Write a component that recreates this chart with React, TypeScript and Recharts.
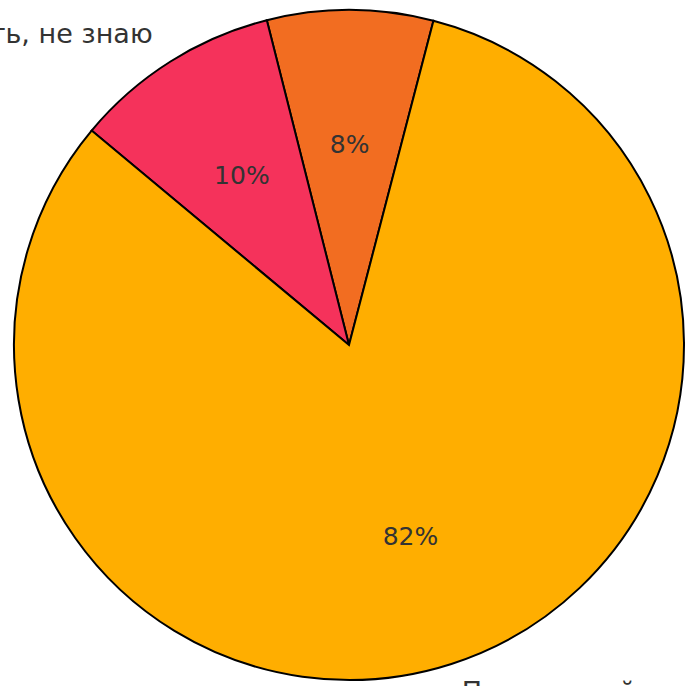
import { PieChart, Pie, Cell } from 'recharts'

const names = ['Да, полностью', 'Затрудняюсь ответить, не знаю', 'Позитивный']
const shares = [8, 10, 82]
const colors = ['#F26D21', '#F5325B', '#FFAE00']

const data = names.map((name, i) => ({ name, value: shares[i] }))

const RAD = Math.PI / 180

function renderLabel(props: any) {
  const { cx, cy, midAngle, outerRadius, percent, name, index } = props
  const cos = Math.cos(-midAngle * RAD)
  const sin = Math.sin(-midAngle * RAD)
  const rIn = outerRadius * 0.6
  const rOut = outerRadius * 1.1
  return (
    <g key={`lbl-${index}`}>
      <text
        x={cx + rIn * cos}
        y={cy + rIn * sin}
        dy={9}
        textAnchor="middle"
        fill="#333333"
        fontSize={25}
        fontFamily="DejaVu Sans"
      >
        {`${Math.round(percent * 100)}%`}
      </text>
      <text
        x={cx + rOut * cos}
        y={cy + rOut * sin}
        dy={sin > 0 ? 5 : 10}
        textAnchor={cos >= 0 ? 'start' : 'end'}
        fill="#333333"
        fontSize={27}
        fontFamily="DejaVu Sans"
      >
        {name}
      </text>
    </g>
  )
}

export default function App() {
  return (
    <div style={{ position: 'fixed', left: 0, top: 0, background: '#fff' }}>
      <PieChart width={688} height={686} margin={{ top: 0, right: 0, bottom: 0, left: 0 }}>
        <Pie
          data={data}
          dataKey="value"
          nameKey="name"
          cx={349}
          cy={345}
          outerRadius={335}
          startAngle={75.4}
          endAngle={435.4}
          stroke="#000000"
          strokeWidth={2}
          label={renderLabel}
          labelLine={false}
          isAnimationActive={false}
        >
          {data.map((d, i) => (
            <Cell key={d.name} fill={colors[i]} />
          ))}
        </Pie>
      </PieChart>
    </div>
  )
}
